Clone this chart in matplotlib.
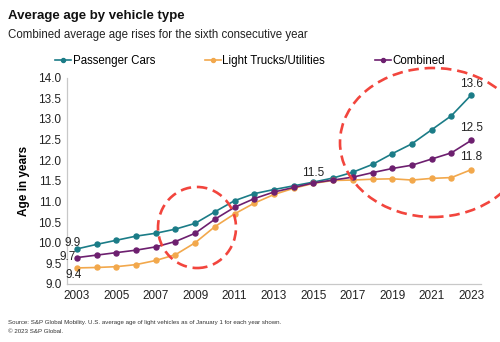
import matplotlib
matplotlib.use("Agg")
import matplotlib.pyplot as plt
from matplotlib.patches import Ellipse

plt.rcParams["font.family"] = ["Liberation Sans", "DejaVu Sans"]

# ── data ───────────────────────────────────────────────────────────────────
years = list(range(2003, 2024))
passenger_cars = [9.85, 9.96, 10.06, 10.16, 10.23, 10.33, 10.47, 10.75, 11.02, 11.19, 11.29,
                  11.38, 11.47, 11.57, 11.71, 11.90, 12.16, 12.40, 12.74, 13.08, 13.58]
light_trucks = [9.39, 9.40, 9.42, 9.47, 9.57, 9.71, 10.00, 10.39, 10.70, 10.96, 11.17,
                11.32, 11.44, 11.51, 11.52, 11.54, 11.55, 11.52, 11.56, 11.58, 11.77]
combined = [9.64, 9.70, 9.76, 9.82, 9.90, 10.03, 10.23, 10.57, 10.86, 11.07, 11.23,
            11.34, 11.45, 11.52, 11.59, 11.70, 11.80, 11.88, 12.03, 12.18, 12.48]
xtick_years = list(range(2003, 2024, 2))
yticks = [9.0, 9.5, 10.0, 10.5, 11.0, 11.5, 12.0, 12.5, 13.0, 13.5, 14.0]

TEAL = "#1b7c87"
ORANGE = "#f2a84c"
PURPLE = "#6d1f6f"
RED = "#f2453d"

fig = plt.figure(figsize=(5.0, 3.42), dpi=100)
ax = fig.add_axes([0.134, 0.1696, 0.828, 0.6031])

series = [("Passenger Cars", passenger_cars, TEAL),
          ("Light Trucks/Utilities", light_trucks, ORANGE),
          ("Combined", combined, PURPLE)]
for name, vals, col in series:
    ax.plot(years, vals, color=col, lw=1.2, marker="o", ms=3.6, label=name)

ax.set_xlim(2002.5, 2023.5)
ax.set_ylim(9.0, 14.0)
ax.set_xticks(xtick_years)
ax.set_yticks(yticks)
ax.set_yticklabels([f"{v:.1f}" for v in yticks])
ax.tick_params(length=0, labelsize=8.5, colors="#222222", pad=4)
for s in ["top", "right"]:
    ax.spines[s].set_visible(False)
for s in ["left", "bottom"]:
    ax.spines[s].set_color("#c8c8c8")
    ax.spines[s].set_linewidth(0.9)
ax.set_ylabel("Age in years", fontsize=8.5, fontweight="bold", labelpad=6)

# value labels
lab_kw = dict(fontsize=8.5, color="#222222", ha="center", va="center")
ax.text(2002.8, 9.99, "9.9", **lab_kw)
ax.text(2002.55, 9.66, "9.7", **lab_kw)
ax.text(2002.85, 9.22, "9.4", **lab_kw)
ax.text(2015, 11.68, "11.5", **lab_kw)
ax.text(2023, 13.86, "13.6", **lab_kw)
ax.text(2023, 12.78, "12.5", **lab_kw)
ax.text(2023, 12.07, "11.8", **lab_kw)

# legend
fig.legend(loc="center", bbox_to_anchor=(0.5, 0.822), ncol=3, frameon=False,
           fontsize=8.3, handlelength=1.4, handletextpad=0.15, columnspacing=4.3,
           markerscale=0.8)

# highlight ellipses
for (cx, cy, w, h) in [(0.394, 0.3348, 0.156, 0.237), (0.866, 0.5833, 0.372, 0.4357)]:
    fig.add_artist(Ellipse((cx, cy), w, h, transform=fig.transFigure, fill=False,
                           ec=RED, lw=1.9, ls=(0, (4, 2.2)), clip_on=False))

fig.text(0.016, 0.953, "Average age by vehicle type", fontsize=9.5, fontweight="bold",
         color="#111111", va="center")
fig.text(0.016, 0.897, "Combined average age rises for the sixth consecutive year",
         fontsize=8.3, color="#222222", va="center")
fig.text(0.016, 0.058, "Source: S&P Global Mobility. U.S. average age of light vehicles as of "
         "January 1 for each year shown.", fontsize=4.4, color="#333333", va="center")
fig.text(0.016, 0.032, "© 2023 S&P Global.", fontsize=4.4, color="#333333", va="center")

fig.savefig("out.png", dpi=100)
